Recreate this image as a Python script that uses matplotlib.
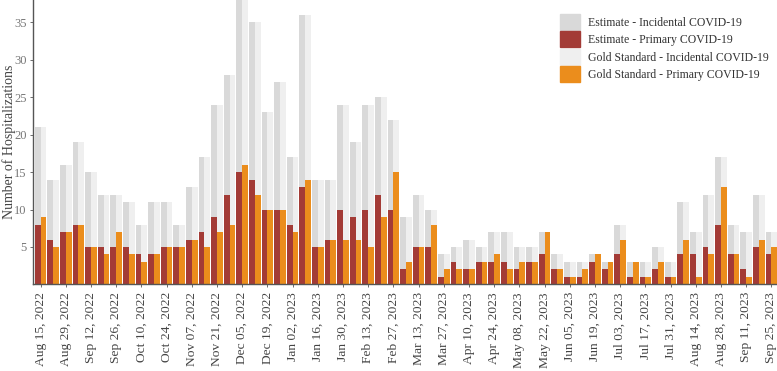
import numpy as np
import pandas as pd
import matplotlib
matplotlib.use("Agg")
import matplotlib.pyplot as plt
from matplotlib.patches import Patch

plt.rcParams['font.family'] = ['Liberation Serif', 'DejaVu Serif']

# weekly totals (same for estimate and gold standard)
total = [21, 14, 16, 19, 15, 12, 12, 11, 8, 11, 11, 8, 13, 17, 24, 28, 38, 35, 23, 27,
         17, 36, 14, 14, 24, 19, 24, 25, 22, 9, 12, 10, 4, 5, 6, 5, 7, 7, 5, 5,
         7, 4, 3, 3, 4, 3, 8, 3, 3, 5, 3, 11, 7, 12, 17, 8, 7, 12, 7]
est_primary = [8, 6, 7, 8, 5, 5, 5, 5, 4, 4, 5, 5, 6, 7, 9, 12, 15, 14, 10, 10,
               8, 13, 5, 6, 10, 9, 10, 12, 10, 2, 5, 5, 1, 3, 2, 3, 3, 3, 2, 3,
               4, 2, 1, 1, 3, 2, 4, 1, 1, 2, 1, 4, 4, 5, 8, 4, 2, 5, 4]
gold_primary = [9, 5, 7, 8, 5, 4, 7, 4, 3, 4, 5, 5, 6, 5, 7, 8, 16, 12, 10, 10,
                7, 14, 5, 6, 6, 6, 5, 9, 15, 3, 5, 8, 2, 2, 2, 3, 4, 2, 3, 3,
                7, 2, 1, 2, 4, 3, 6, 3, 1, 3, 1, 6, 1, 4, 13, 4, 1, 6, 5]

weeks = pd.date_range('2022-08-15', periods=len(total), freq='7D')

total = np.array(total)
est_primary = np.array(est_primary)
gold_primary = np.array(gold_primary)
est_incid = total - est_primary
gold_incid = total - gold_primary

c_est_inc = '#d9d9d9'
c_est_pri = '#a33b36'
c_gold_inc = '#efefef'
c_gold_pri = '#eb8d1c'

fig = plt.figure(figsize=(7.77, 3.71), dpi=100)
ax = fig.add_axes([0.0425, 0.2334, 0.9575, 0.7666])

x = np.arange(len(total))
w = 0.46
ax.bar(x - w / 2, est_primary, w, color=c_est_pri, linewidth=0)
ax.bar(x - w / 2, est_incid, w, bottom=est_primary, color=c_est_inc, linewidth=0)
ax.bar(x + w / 2, gold_primary, w, color=c_gold_pri, linewidth=0)
ax.bar(x + w / 2, gold_incid, w, bottom=gold_primary, color=c_gold_inc, linewidth=0)

ax.set_xlim(-0.6, len(total) - 0.55)
ax.set_ylim(0, 38)
ax.set_yticks([5, 10, 15, 20, 25, 30, 35])
ax.set_xticks(x[::2])
ax.set_xticklabels([d.strftime('%b %d, %Y') for d in weeks[::2]], rotation=90)
ax.tick_params(axis='both', colors='#555555', length=2.5, width=0.6)
ax.tick_params(axis='x', labelcolor='#444444', labelsize=9.7, pad=3)
ax.tick_params(axis='y', labelcolor='#777777', labelsize=9, pad=2)

for s in ['top', 'right']:
    ax.spines[s].set_visible(False)
for s in ['left', 'bottom']:
    ax.spines[s].set_color('#555555')
    ax.spines[s].set_linewidth(1.0)

ax.set_ylabel('Number of Hospitalizations', fontsize=10, color='#444444')
ax.yaxis.set_label_coords(-0.0235, 0.5)

handles = [Patch(color=c_est_inc), Patch(color=c_est_pri),
           Patch(color=c_gold_inc), Patch(color=c_gold_pri)]
labels = ['Estimate - Incidental COVID-19', 'Estimate - Primary COVID-19',
          'Gold Standard - Incidental COVID-19', 'Gold Standard - Primary COVID-19']
leg = fig.legend(handles, labels, loc='upper left',
                 bbox_to_anchor=(560 / 777, 1 - 14 / 371), bbox_transform=fig.transFigure,
                 frameon=False, fontsize=8.5, handlelength=1.7, handleheight=1.7,
                 labelspacing=0.12, handletextpad=0.7, borderpad=0, borderaxespad=0)
for t in leg.get_texts():
    t.set_color('#333333')

fig.savefig('out.png', dpi=100)
